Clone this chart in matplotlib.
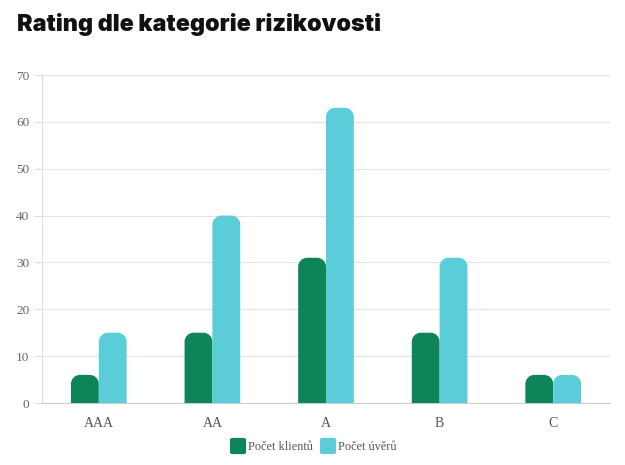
import numpy as np
import matplotlib
matplotlib.use("Agg")
import matplotlib.pyplot as plt
from matplotlib.path import Path
from matplotlib.patches import PathPatch
from matplotlib.lines import Line2D
from matplotlib.markers import MarkerStyle

categories = ["AAA", "AA", "A", "B", "C"]
klienti = [6, 15, 31, 15, 6]
uvery = [15, 40, 63, 31, 6]
series_names = ["Počet klientů", "Počet úvěrů"]
colors = ["#0e8558", "#5bcdd9"]
yticks = [0, 10, 20, 30, 40, 50, 60, 70]


def rounded_top(x0, w, h, rx, ry):
    """Path for a bar with rounded top corners (elliptic in data units)."""
    k = 0.5523
    x1 = x0 + w
    verts = [
        (x0, 0), (x0, h - ry),
        (x0, h - ry + k * ry), (x0 + rx - k * rx, h), (x0 + rx, h),
        (x1 - rx, h),
        (x1 - rx + k * rx, h), (x1, h - ry + k * ry), (x1, h - ry),
        (x1, 0), (x0, 0),
    ]
    codes = [Path.MOVETO, Path.LINETO,
             Path.CURVE4, Path.CURVE4, Path.CURVE4,
             Path.LINETO,
             Path.CURVE4, Path.CURVE4, Path.CURVE4,
             Path.LINETO, Path.CLOSEPOLY]
    return Path(verts, codes)


fig = plt.figure(figsize=(6.25, 4.65), dpi=100)
ax = fig.add_axes([42 / 625, 1 - 403 / 465, 568 / 625, 328 / 465])

x = np.arange(len(categories))
bw = 0.245
ax.set_xlim(-0.5, len(categories) - 0.5)
ax.set_ylim(0, 70)

# pixel -> data radius
rpx = 9
rx = rpx / (568 / len(categories))
ry = rpx / (328 / 70)

for i, (vals, col) in enumerate(zip([klienti, uvery], colors)):
    bars = ax.bar(x + (i - 0.5) * bw, vals, bw, color=col)
    for b in bars:
        b.set_visible(False)
        h = b.get_height()
        r_y = min(ry, h)
        p = PathPatch(rounded_top(b.get_x(), b.get_width(), h, rx, r_y),
                      facecolor=col, edgecolor="none", zorder=3)
        ax.add_patch(p)

ax.set_yticks(yticks)
ax.set_xticks(x)
ax.set_xticklabels(categories)
ax.grid(axis="y", color="#e3e3e3", linewidth=0.8)
ax.set_axisbelow(True)
for s in ["top", "right"]:
    ax.spines[s].set_visible(False)
ax.spines["left"].set_color("#dddddd")
ax.spines["bottom"].set_color("#cccccc")
ax.tick_params(axis="y", length=6, color="#dddddd", labelsize=9.5,
               labelcolor="#666666", pad=3)
ax.tick_params(axis="x", length=0, labelsize=10, labelcolor="#555555", pad=10)
for lab in ax.get_xticklabels() + ax.get_yticklabels():
    lab.set_fontfamily("Liberation Serif")

fig.text(17 / 625, 1 - 25 / 465, "Rating dle kategorie rizikovosti",
         fontsize=16.8, fontweight="black", family="Inter", va="center",
         color="#111111")

mk = MarkerStyle("s", joinstyle="round")
handles = [Line2D([], [], marker=mk, linestyle="none", markersize=9,
                  markerfacecolor=c, markeredgecolor=c, markeredgewidth=3)
           for c in colors]
leg = fig.legend(handles, series_names, loc="center",
                 bbox_to_anchor=(0.502, 1 - 447 / 465), ncol=2, frameon=False,
                 prop={"family": "Liberation Serif", "size": 8.8},
                 handletextpad=0.25, columnspacing=0.6, handlelength=1.2)
for t in leg.get_texts():
    t.set_color("#555555")

fig.savefig("out.png", dpi=100)
